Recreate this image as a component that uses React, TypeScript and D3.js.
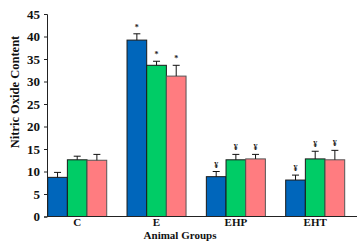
import React, { useEffect, useRef } from 'react';
import * as d3 from 'd3';

// chart values
const groups = ['C', 'E', 'EHP', 'EHT'];
const seriesNames = ['s1', 's2', 's3'];
const seriesColors = ['#0066BB', '#00CC66', '#FF7C80'];
const means = [
  [8.7, 12.6, 12.5],
  [39.2, 33.6, 31.2],
  [8.85, 12.6, 12.8],
  [8.1, 12.8, 12.6],
];
const errors = [
  [1.1, 0.8, 1.3],
  [1.4, 0.9, 2.4],
  [1.15, 1.2, 1.0],
  [1.1, 1.7, 2.1],
];
const marks = [
  ['', '', ''],
  ['*', '*', '*'],
  ['¥', '¥', '¥'],
  ['¥', '¥', '¥'],
];
const yTicks = [0, 5, 10, 15, 20, 25, 30, 35, 40, 45];

const App = () => {
  const ref = useRef<SVGSVGElement | null>(null);

  useEffect(() => {
    const svg = d3.select(ref.current);
    svg.selectAll('*').remove();

    const font = '"Liberation Serif", "Times New Roman", serif';
    const x0 = d3.scaleBand().domain(groups).range([47.7, 344.7]).paddingInner(0.256).paddingOuter(0);
    const x1 = d3.scaleBand().domain(seriesNames).range([0, x0.bandwidth()]).padding(0);
    const y = d3.scaleLinear().domain([0, 45]).range([216.5, 14]);

    // bars with upper error bars and significance marks
    groups.forEach((g, gi) => {
      const gg = svg.append('g').attr('transform', `translate(${x0(g)},0)`);
      seriesNames.forEach((s, si) => {
        const v = means[gi][si];
        const bx = x1(s)!;
        const bw = x1.bandwidth();
        gg.append('rect')
          .attr('x', bx)
          .attr('y', y(v))
          .attr('width', bw)
          .attr('height', y(0) - y(v))
          .attr('fill', seriesColors[si])
          .attr('stroke', si === 2 ? '#555' : '#1a1a1a')
          .attr('stroke-width', 1);
        const cx = bx + bw / 2;
        const top = y(v + errors[gi][si]);
        gg.append('line')
          .attr('x1', cx).attr('x2', cx)
          .attr('y1', y(v)).attr('y2', top)
          .attr('stroke', '#111').attr('stroke-width', 1);
        gg.append('line')
          .attr('x1', cx - 3.5).attr('x2', cx + 3.5)
          .attr('y1', top).attr('y2', top)
          .attr('stroke', '#111').attr('stroke-width', 1);
        if (marks[gi][si]) {
          gg.append('text')
            .attr('x', cx)
            .attr('y', top - 4)
            .attr('text-anchor', 'middle')
            .style('font-family', font)
            .style('font-weight', 'bold')
            .style('font-size', '8px')
            .style('fill', '#222')
            .text(marks[gi][si]);
        }
      });
    });

    // y axis
    const yAxis = svg.append('g')
      .attr('transform', 'translate(47,0)')
      .call(d3.axisLeft(y).tickValues(yTicks).tickSize(3).tickPadding(4));
    yAxis.select('.domain').attr('stroke', '#222');
    yAxis.selectAll('line').attr('stroke', '#222');
    yAxis.selectAll('text')
      .style('font-family', font)
      .style('font-weight', 'bold')
      .style('font-size', '13px')
      .style('fill', '#111');

    // x axis baseline
    svg.append('line')
      .attr('x1', 47).attr('x2', 357)
      .attr('y1', y(0)).attr('y2', y(0))
      .attr('stroke', '#222').attr('stroke-width', 1);

    // group labels
    groups.forEach(g => {
      svg.append('text')
        .attr('x', x0(g)! + x0.bandwidth() / 2)
        .attr('y', 226)
        .attr('text-anchor', 'middle')
        .style('font-family', font)
        .style('font-weight', 'bold')
        .style('font-size', '11px')
        .style('fill', '#111')
        .text(g);
    });

    svg.append('text')
      .attr('x', 180)
      .attr('y', 238.5)
      .attr('text-anchor', 'middle')
      .style('font-family', font)
      .style('font-weight', 'bold')
      .style('font-size', '11px')
      .style('fill', '#111')
      .text('Animal Groups');

    svg.append('text')
      .attr('transform', 'translate(19,92) rotate(-90)')
      .attr('text-anchor', 'middle')
      .style('font-family', font)
      .style('font-weight', 'bold')
      .style('font-size', '12.5px')
      .style('fill', '#111')
      .text('Nitric Oxide Content');
  }, []);

  return (
    <svg
      ref={ref}
      width={361}
      height={241}
      style={{ position: 'absolute', left: 0, top: 0, background: '#fff' }}
    />
  );
};

export default App;
